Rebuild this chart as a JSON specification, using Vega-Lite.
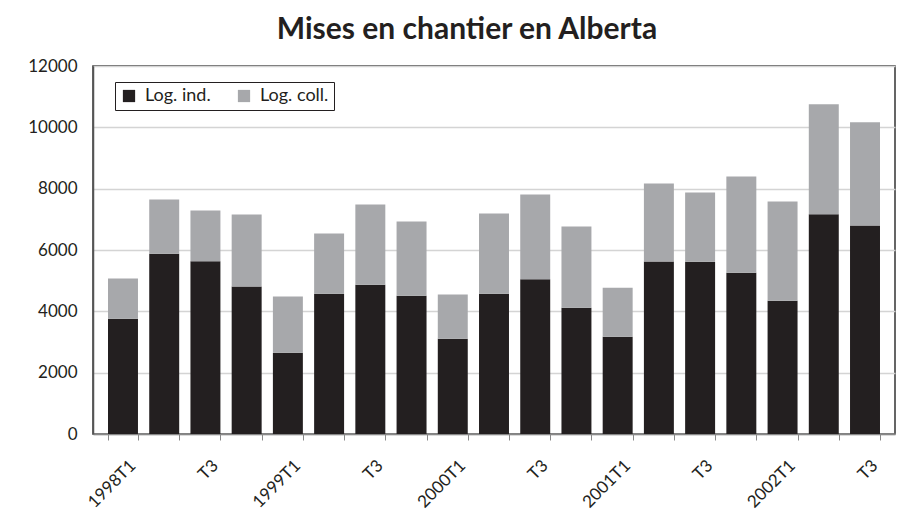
{
  "$schema": "https://vega.github.io/schema/vega-lite/v6.json",
  "autosize": "none",
  "width": 802,
  "height": 368,
  "padding": {"left": 93, "top": 66, "right": 20, "bottom": 87},
  "background": "white",
  "title": {
    "text": "Mises en chantier en Alberta",
    "font": "Lato",
    "fontSize": 30,
    "fontWeight": "bold",
    "color": "#231f20",
    "anchor": "middle",
    "dx": -27,
    "offset": 12
  },
  "data": {
    "values": [
      {"q": "1998T1", "serie": "Log. ind.", "v": 3760}, {"q": "1998T1", "serie": "Log. coll.", "v": 1310},
      {"q": "1998T2", "serie": "Log. ind.", "v": 5880}, {"q": "1998T2", "serie": "Log. coll.", "v": 1770},
      {"q": "1998T3", "serie": "Log. ind.", "v": 5630}, {"q": "1998T3", "serie": "Log. coll.", "v": 1660},
      {"q": "1998T4", "serie": "Log. ind.", "v": 4810}, {"q": "1998T4", "serie": "Log. coll.", "v": 2350},
      {"q": "1999T1", "serie": "Log. ind.", "v": 2650}, {"q": "1999T1", "serie": "Log. coll.", "v": 1830},
      {"q": "1999T2", "serie": "Log. ind.", "v": 4575}, {"q": "1999T2", "serie": "Log. coll.", "v": 1965},
      {"q": "1999T3", "serie": "Log. ind.", "v": 4870}, {"q": "1999T3", "serie": "Log. coll.", "v": 2615},
      {"q": "1999T4", "serie": "Log. ind.", "v": 4510}, {"q": "1999T4", "serie": "Log. coll.", "v": 2420},
      {"q": "2000T1", "serie": "Log. ind.", "v": 3105}, {"q": "2000T1", "serie": "Log. coll.", "v": 1440},
      {"q": "2000T2", "serie": "Log. ind.", "v": 4575}, {"q": "2000T2", "serie": "Log. coll.", "v": 2615},
      {"q": "2000T3", "serie": "Log. ind.", "v": 5045}, {"q": "2000T3", "serie": "Log. coll.", "v": 2765},
      {"q": "2000T4", "serie": "Log. ind.", "v": 4120}, {"q": "2000T4", "serie": "Log. coll.", "v": 2645},
      {"q": "2001T1", "serie": "Log. ind.", "v": 3170}, {"q": "2001T1", "serie": "Log. coll.", "v": 1600},
      {"q": "2001T2", "serie": "Log. ind.", "v": 5625}, {"q": "2001T2", "serie": "Log. coll.", "v": 2545},
      {"q": "2001T3", "serie": "Log. ind.", "v": 5620}, {"q": "2001T3", "serie": "Log. coll.", "v": 2256},
      {"q": "2001T4", "serie": "Log. ind.", "v": 5260}, {"q": "2001T4", "serie": "Log. coll.", "v": 3140},
      {"q": "2002T1", "serie": "Log. ind.", "v": 4345}, {"q": "2002T1", "serie": "Log. coll.", "v": 3235},
      {"q": "2002T2", "serie": "Log. ind.", "v": 7165}, {"q": "2002T2", "serie": "Log. coll.", "v": 3590},
      {"q": "2002T3", "serie": "Log. ind.", "v": 6800}, {"q": "2002T3", "serie": "Log. coll.", "v": 3365}
    ]
  },
  "transform": [
    {"calculate": "indexof(['Log. ind.', 'Log. coll.'], datum.serie)", "as": "ord"}
  ],
  "mark": {"type": "bar"},
  "encoding": {
    "x": {
      "field": "q",
      "type": "nominal",
      "sort": null,
      "scale": {"paddingInner": 0.273, "paddingOuter": 0.364},
      "axis": {
        "title": null,
        "tickBand": "extent",
        "labelAngle": -45,
        "labelExpr": "isString(datum.value) ? (substring(datum.value, 4) == 'T1' ? datum.value : (substring(datum.value, 4) == 'T3' ? 'T3' : '')) : ''",
        "labelFont": "Lato",
        "labelFontSize": 17,
        "labelColor": "#231f20",
        "labelPadding": 17,
        "labelOffset": 4,
        "tickColor": "#888888",
        "tickSize": 6,
        "domainColor": "#888888",
        "domainWidth": 1.5,
        "grid": false
      }
    },
    "y": {
      "field": "v",
      "type": "quantitative",
      "stack": "zero",
      "scale": {"domain": [0, 12000], "nice": false},
      "axis": {
        "title": null,
        "values": [0, 2000, 4000, 6000, 8000, 10000, 12000],
        "format": "d",
        "labelFont": "Lato",
        "labelFontSize": 17,
        "labelColor": "#231f20",
        "labelPadding": 16,
        "ticks": false,
        "domainColor": "#555555",
        "domainWidth": 1.5,
        "grid": true,
        "gridColor": "#d4d4d4",
        "gridWidth": 1.5
      }
    },
    "color": {
      "field": "serie",
      "type": "nominal",
      "scale": {"domain": ["Log. ind.", "Log. coll."], "range": ["#231f20", "#a7a8ab"]},
      "legend": {
        "title": null,
        "orient": "none",
        "legendX": 22,
        "legendY": 16,
        "direction": "horizontal",
        "strokeColor": "#231f20",
        "fillColor": "white",
        "padding": 5,
        "symbolType": "square",
        "symbolSize": 150,
        "symbolStrokeWidth": 0,
        "labelFont": "Lato",
        "labelFontSize": 18,
        "labelColor": "#231f20",
        "labelOffset": 7,
        "columnPadding": 24
      }
    },
    "order": {"field": "ord", "type": "quantitative"}
  },
  "config": {
    "view": {"stroke": "#333333", "strokeWidth": 1.5}
  }
}
